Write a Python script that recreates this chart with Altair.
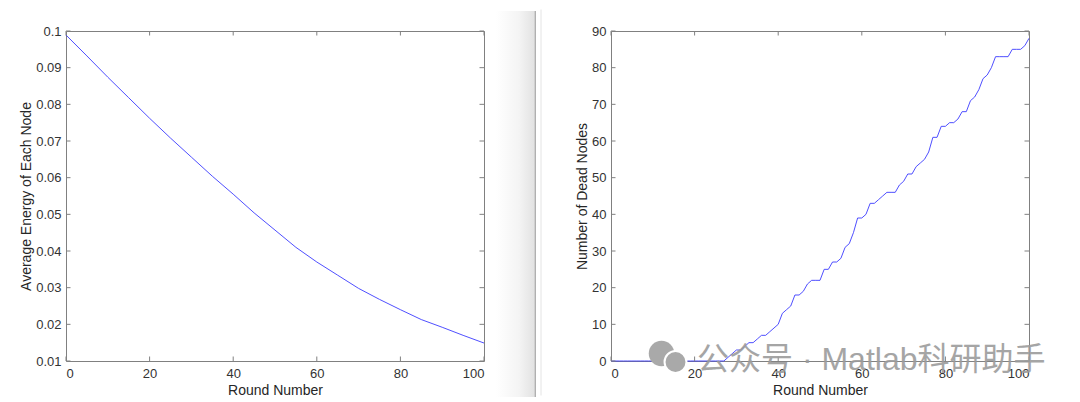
import altair as alt
import pandas as pd

# ---------------- data ----------------
energy_rounds = [0, 5, 10, 15, 20, 25, 30, 35, 40, 45, 50,
                 55, 60, 65, 70, 75, 80, 85, 90, 95, 100]
avg_energy = [0.0989, 0.0932, 0.0874, 0.0818, 0.0762, 0.0708, 0.0656, 0.0604,
              0.0555, 0.0504, 0.0457, 0.0410, 0.0370, 0.0334, 0.0298, 0.0268,
              0.0240, 0.0213, 0.0192, 0.0170, 0.0149]

dead_rounds = list(range(0, 101))
dead_nodes = [0] * 27 + [
    0, 1, 2, 3, 3, 4, 5, 5, 6, 7, 7, 8, 9, 10,          # 27-40
    13, 14, 15, 18, 18, 19, 21, 22, 22, 22,              # 41-50
    25, 25, 27, 27, 28, 31, 32, 35, 39, 39,              # 51-60
    40, 43, 43, 44, 45, 46, 46, 46, 48, 49,              # 61-70
    51, 51, 53, 54, 55, 57, 61, 61, 64, 64,              # 71-80
    65, 65, 66, 68, 68, 71, 72, 74, 77, 78,              # 81-90
    80, 83, 83, 83, 83, 85, 85, 85, 86, 88,              # 91-100
]

x_ticks = [0, 20, 40, 60, 80, 100]
energy_ticks = [0.01, 0.02, 0.03, 0.04, 0.05, 0.06, 0.07, 0.08, 0.09, 0.1]
dead_ticks = [0, 10, 20, 30, 40, 50, 60, 70, 80, 90]

x_title = "Round Number"
energy_title = "Average Energy of Each Node"
dead_title = "Number of Dead Nodes"
watermark = ["公众号 · Matlab科研助手"]

# ---------------- style ----------------
W, H = 418, 330
TICK = 4.5
BOX = "#808080"
LINE = "#3b3bff"
FONT = "Liberation Sans"

energy_df = pd.DataFrame({"round": energy_rounds, "value": avg_energy})
dead_df = pd.DataFrame({"round": dead_rounds, "value": dead_nodes})
xt_df = pd.DataFrame({"round": x_ticks})
one = pd.DataFrame({"a": [0]})


def panel(df, ydomain, yticks, yfmt, ytitle):
    xscale = alt.Scale(domain=[0, 100], nice=False, zero=False)
    yscale = alt.Scale(domain=ydomain, nice=False, zero=False)
    xaxis = alt.Axis(values=x_ticks, title=x_title, ticks=False,
                     tickSize=0, domain=False, grid=False,
                     labelPadding=6, titlePadding=3,
                     labelFont=FONT, titleFont=FONT, labelFontSize=13,
                     titleFontSize=14, labelColor="#333333",
                     titleColor="#262626", titleFontWeight="normal")
    yaxis = alt.Axis(values=yticks, title=ytitle, format=yfmt,
                     ticks=False, tickSize=0, domain=False,
                     grid=False, labelPadding=5, titlePadding=2,
                     labelFont=FONT, titleFont=FONT, labelFontSize=13,
                     titleFontSize=14, labelColor="#333333",
                     titleColor="#262626", titleFontWeight="normal")
    X = alt.X("round:Q", scale=xscale, axis=xaxis)
    Y = alt.Y("value:Q", scale=yscale, axis=yaxis)
    line = alt.Chart(df).mark_line(color=LINE, strokeWidth=0.9).encode(x=X, y=Y)
    yt_df = pd.DataFrame({"value": yticks})
    tx_top = alt.Chart(xt_df).mark_rule(color=BOX, strokeWidth=1).encode(
        x=X, y=alt.value(0), y2=alt.value(TICK))
    tx_bot = alt.Chart(xt_df).mark_rule(color=BOX, strokeWidth=1).encode(
        x=X, y=alt.value(H - TICK), y2=alt.value(H))
    ty_l = alt.Chart(yt_df).mark_rule(color=BOX, strokeWidth=1).encode(
        y=Y, x=alt.value(0), x2=alt.value(TICK))
    ty_r = alt.Chart(yt_df).mark_rule(color=BOX, strokeWidth=1).encode(
        y=Y, x=alt.value(W - TICK), x2=alt.value(W))
    return [line, tx_top, tx_bot, ty_l, ty_r]


# left panel + window divider decoration
left_layers = panel(energy_df, [0.01, 0.1], energy_ticks, ".2~f", energy_title)
shadow = alt.Chart(one).mark_rect(
    color=alt.Gradient(gradient="linear",
                       stops=[alt.GradientStop(color="#ffffff", offset=0),
                              alt.GradientStop(color="#f4f4f4", offset=0.6),
                              alt.GradientStop(color="#e2e2e2", offset=1)],
                       x1=0, x2=1, y1=0, y2=0)
).encode(x=alt.value(430), x2=alt.value(468.5), y=alt.value(-20), y2=alt.value(366))
edge = alt.Chart(one).mark_rect(color="#b0b0b0").encode(
    x=alt.value(468.5), x2=alt.value(470), y=alt.value(-20), y2=alt.value(366))
left = alt.layer(shadow, edge, *left_layers).properties(width=W, height=H)

# right panel + watermark
right_layers = panel(dead_df, [0, 90], dead_ticks, "d", dead_title)
edge2 = alt.Chart(one).mark_rule(color="#e4e4e4", strokeWidth=1).encode(
    x=alt.value(-70), y=alt.value(-21.5), y2=alt.value(364.5))
wm_df = pd.DataFrame({"t": watermark})
icon1 = alt.Chart(one).mark_circle(color="#a9a9a9", opacity=1, size=650).encode(
    x=alt.value(50.5), y=alt.value(322.5))
icon2 = alt.Chart(one).mark_circle(color="#a9a9a9", opacity=1, size=480,
                                   stroke="#ffffff", strokeWidth=2).encode(
    x=alt.value(64.5), y=alt.value(331))
wm = alt.Chart(wm_df).mark_text(font="Liberation Sans, Noto Sans CJK SC",
                                fontSize=32, color="#9c9c9c", opacity=0.9,
                                align="left", baseline="middle").encode(
    text="t:N", x=alt.value(86), y=alt.value(329))
right = alt.layer(edge2, *right_layers, icon1, icon2, wm).properties(width=W, height=H)

chart = alt.hconcat(left, right, spacing=3).properties(
    padding={"left": 11, "top": 0, "right": 0, "bottom": 0},
    background="#ffffff"
).configure_view(
    stroke=BOX, strokeWidth=1
)

chart.save("out.html", embed_options={"renderer": "svg", "actions": False})
